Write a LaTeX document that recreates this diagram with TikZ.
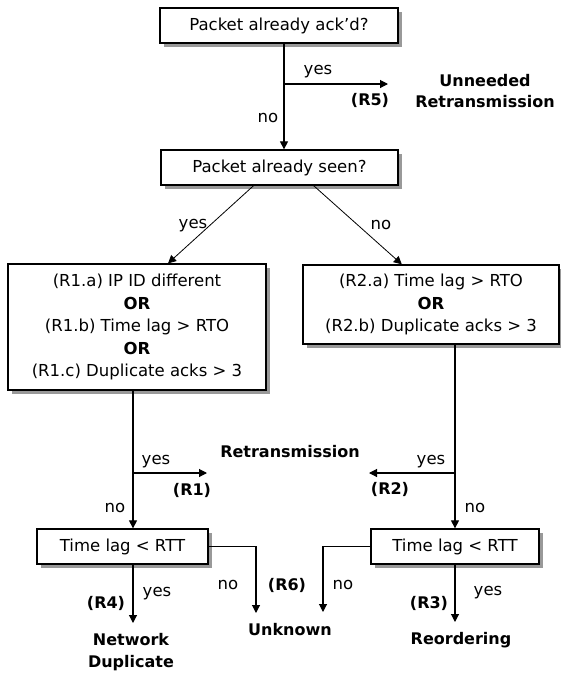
\documentclass[tikz,border=0pt]{standalone}
\usepackage{fontspec}
\setmainfont{DejaVu Sans}
\usetikzlibrary{arrows.meta,shadows}
\begin{document}
\begin{tikzpicture}[x=1pt,y=-1pt,
  font=\fontsize{16.5}{22.5}\selectfont,
  box/.style={draw=black, line width=1.3pt, fill=white, inner sep=0pt, align=center,
     drop shadow={shadow xshift=4pt, shadow yshift=-4pt, fill=black!40, opacity=1}},
  lbl/.style={inner sep=0pt},
  res/.style={inner sep=0pt, font=\fontsize{16}{21}\selectfont\bfseries, align=center},
  arr/.style={line width=1.1pt, -{Triangle[length=8pt,width=8pt]}},
  darr/.style={line width=0.8pt, -{Triangle[length=8pt,width=8pt]}}]
\fill[white] (0,0) rectangle (561,675);
\useasboundingbox (0,0) rectangle (561,675);

% boxes
\node[box, minimum width=238pt, minimum height=35pt] (q1) at (279,25.5) {Packet already ack'd?};
\node[box, minimum width=237pt, minimum height=35pt] (q2) at (279.5,167.5) {Packet already seen?};
\node[box, minimum width=258pt, minimum height=126pt] (c1) at (137,327)
  {(R1.a) IP ID different\\\textbf{OR}\\(R1.b) Time lag > RTO\\\textbf{OR}\\(R1.c) Duplicate acks > 3};
\node[box, minimum width=256pt, minimum height=79pt] (c2) at (431,304.5)
  {(R2.a) Time lag > RTO\\\textbf{OR}\\(R2.b) Duplicate acks > 3};
\node[box, minimum width=171pt, minimum height=35pt] (t1) at (122.5,546.5) {Time lag < RTT};
\node[box, minimum width=168pt, minimum height=35pt] (t2) at (455,546.5) {Time lag < RTT};

% top part
\coordinate (j1) at (284,84);
\coordinate (e5) at (388,84);
\draw[arr] (q1.south -| j1) -- (q2.north -| j1);
\draw[arr] (j1) -- (e5);
\node[lbl] (y5) at (318,72) {yes};
\node[res] (r5) at (370,100) {(R5)};
\node[res] (o5) at (485,91) {Unneeded\\Retransmission};
\node[lbl] (n5) at (268,118) {no};

% diagonals
\draw[darr] (q2.215.5) -- (c1.64.5);
\draw[darr] (q2.332.4) -- (c2.126.3);
\node[lbl] (ya) at (193,226) {yes};
\node[lbl] (na) at (381,225) {no};

% middle branches
\coordinate (j2) at (133,473);
\coordinate (e1) at (207,473);
\draw[arr] (c1.south -| j2) -- (t1.north -| j2);
\draw[arr] (j2) -- (e1);
\coordinate (j3) at (455,473);
\coordinate (e2) at (369,473);
\draw[arr] (c2.south -| j3) -- (t2.north -| j3);
\draw[arr] (j3) -- (e2);
\node[lbl] (y1) at (156,462) {yes};
\node[res] (r1) at (192,490) {(R1)};
\node[lbl] (n1) at (115,508) {no};
\node[lbl] (y2) at (431,462) {yes};
\node[res] (r2) at (390,489) {(R2)};
\node[lbl] (n2) at (475,508) {no};
\node[res] (ret) at (290,452) {Retransmission};

% bottom
\coordinate (k1) at (256,613);
\coordinate (k2) at (323,612);
\coordinate (k3) at (133,623);
\coordinate (k4) at (455,622);
\draw[arr] (t1.east) -| (k1);
\draw[arr] (t2.west) -| (k2);
\draw[arr] (t1.south -| k3) -- (k3);
\draw[arr] (t2.south -| k4) -- (k4);
\node[lbl] (n3) at (228,585) {no};
\node[res] (r6) at (287,585) {(R6)};
\node[lbl] (n4) at (343,585) {no};
\node[res] (unk) at (290,630) {Unknown};
\node[res] (r4) at (106,603) {(R4)};
\node[lbl] (y4) at (157,594) {yes};
\node[res, font=\fontsize{16}{22}\selectfont\bfseries] (nd) at (131,652) {Network\\Duplicate};
\node[res] (r3) at (429,603) {(R3)};
\node[lbl] (y3) at (488,593) {yes};
\node[res] (reo) at (461,640) {Reordering};
\end{tikzpicture}
\end{document}
